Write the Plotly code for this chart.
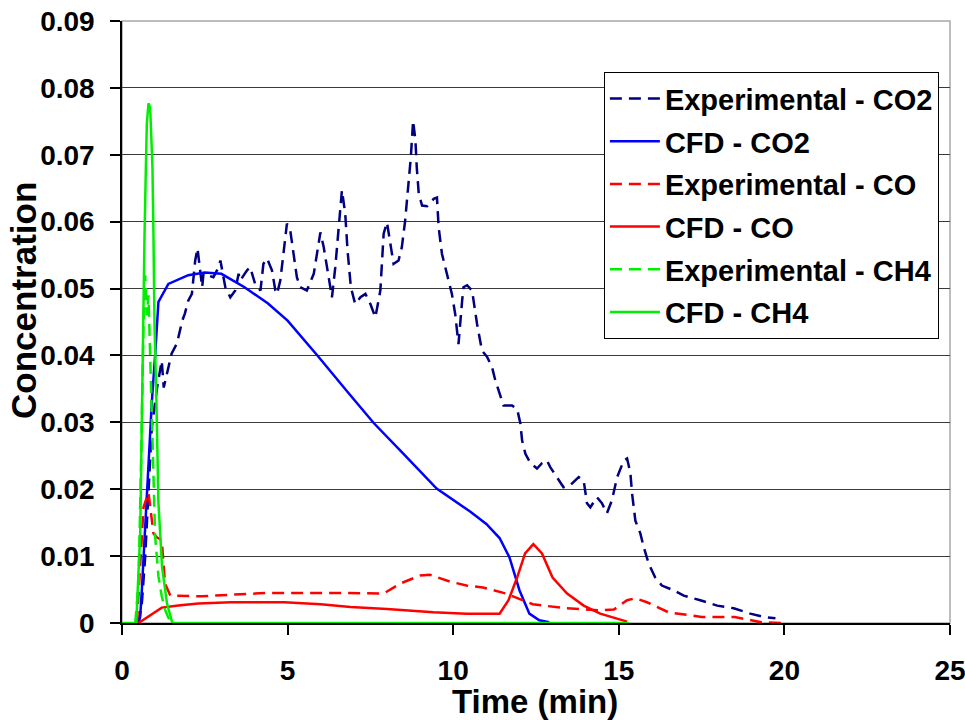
import plotly.graph_objects as go

# Time (min) and concentration values
exp_co2_t = [0.5, 0.6, 0.7, 0.8, 0.9, 1.06, 1.2, 1.26, 1.36, 1.5, 1.66, 1.82, 1.9, 2.0, 2.11, 2.21, 2.28,
             2.34, 2.42, 2.46, 2.76, 2.92, 2.97, 3.12, 3.27, 3.42, 3.52, 3.57, 3.77, 3.87, 4.02, 4.18,
             4.27, 4.38, 4.53, 4.63, 4.68, 4.78, 4.87, 4.98, 5.08, 5.18, 5.28, 5.38, 5.58, 5.79, 5.89,
             5.99, 6.09, 6.24, 6.34, 6.44, 6.54, 6.64, 6.74, 6.81, 6.91, 7.04, 7.2, 7.35, 7.5, 7.65,
             7.8, 7.9, 8.0, 8.1, 8.2, 8.35, 8.45, 8.55, 8.65, 8.72, 8.79, 8.86, 8.9, 8.96, 9.06, 9.21,
             9.41, 9.51, 9.56, 9.66, 9.81, 9.96, 10.06, 10.16, 10.27, 10.31, 10.42, 10.57, 10.72,
             10.87, 11.02, 11.17, 11.27, 11.42, 11.52, 11.78, 11.93, 12.03, 12.08, 12.18, 12.33,
             12.53, 12.68, 12.83, 12.93, 13.13, 13.33, 13.53, 13.79, 13.94, 14.04, 14.14, 14.34,
             14.49, 14.64, 14.79, 14.95, 15.15, 15.25, 15.35, 15.4, 15.5, 15.65, 15.75, 15.9, 16.1,
             16.3, 16.65, 16.96, 17.46, 17.97, 18.47, 18.97, 19.37, 19.73]
exp_co2_c = [0.0, 0.003, 0.0099, 0.0198, 0.0293, 0.0352, 0.0392, 0.0352, 0.0373, 0.0403, 0.0418, 0.0452,
             0.0463, 0.0482, 0.0492, 0.0542, 0.056, 0.0532, 0.0502, 0.0522, 0.0517, 0.0532, 0.0542,
             0.0502, 0.0487, 0.0497, 0.0522, 0.0512, 0.0527, 0.0532, 0.0507, 0.0497, 0.0537, 0.0545,
             0.0527, 0.0497, 0.0492, 0.0512, 0.0547, 0.0597, 0.0587, 0.0552, 0.0517, 0.0502, 0.0497,
             0.0522, 0.0552, 0.0584, 0.0562, 0.0517, 0.0487, 0.0532, 0.0592, 0.0647, 0.0612, 0.0557,
             0.0502, 0.0477, 0.0487, 0.0492, 0.0477, 0.0457, 0.0497, 0.0582, 0.0599, 0.0567, 0.0537,
             0.0542, 0.0562, 0.0602, 0.0651, 0.0696, 0.0751, 0.0721, 0.0681, 0.0642, 0.0624, 0.0623,
             0.0634, 0.0636, 0.0592, 0.0552, 0.0522, 0.0492, 0.0462, 0.0417, 0.0482, 0.0502, 0.0505,
             0.0497, 0.0447, 0.0407, 0.0398, 0.0383, 0.0363, 0.0338, 0.0325, 0.0325, 0.032, 0.0298,
             0.0273, 0.0253, 0.0239, 0.0231, 0.0239, 0.0243, 0.0233, 0.0218, 0.0203, 0.0206, 0.0218,
             0.0213, 0.0179, 0.0173, 0.0188, 0.0179, 0.0164, 0.0183, 0.0218, 0.0243, 0.0246, 0.0224,
             0.0194, 0.0153, 0.0134, 0.0114, 0.0089, 0.0068, 0.0056, 0.0049, 0.0041, 0.0034, 0.0026,
             0.0022, 0.0014, 0.0009, 0.0007]

cfd_co2_t = [0.5, 0.55, 0.6, 0.7, 0.8, 0.9, 1.0, 1.1, 1.4, 2.0, 2.5, 3.0, 3.7, 4.4, 5.0, 5.9, 6.8, 7.6,
             8.5, 9.5, 10.5, 11.0, 11.4, 11.7, 12.0, 12.3, 12.6, 12.9]
cfd_co2_c = [0.0, 0.001, 0.005, 0.015, 0.025, 0.033, 0.040, 0.048, 0.0507, 0.0520, 0.0524, 0.0522,
             0.0502, 0.0478, 0.0452, 0.040, 0.0346, 0.0299, 0.0253, 0.0201, 0.0167, 0.0148, 0.0127,
             0.0098, 0.0049, 0.0014, 0.0004, 0.0001]

exp_co_t = [0.45, 0.55, 0.65, 0.8, 0.95, 1.05, 1.2, 1.3, 1.46, 2.4, 4.4, 6.4, 7.9, 8.4, 9.0, 9.3, 9.9,
            10.4, 10.9, 11.6, 12.4, 13.4, 14.4, 14.85, 15.25, 15.5, 15.85, 16.5, 17.5, 18.5, 19.3, 20.0]
exp_co_c = [0.0, 0.009, 0.0173, 0.0195, 0.0134, 0.0128, 0.0124, 0.0059, 0.0041, 0.0040, 0.0045,
            0.0045, 0.0044, 0.0059, 0.0071, 0.0072, 0.0062, 0.0056, 0.0053, 0.0044, 0.0028, 0.0022,
            0.0019, 0.0020, 0.0034, 0.0037, 0.0031, 0.0016, 0.0009, 0.0009, 0.0001, 0.0]

cfd_co_t = [0.5, 0.85, 1.2, 1.7, 2.3, 3.3, 4.9, 6.0, 6.9, 8.0, 9.4, 10.4, 11.4, 11.67, 11.93, 12.17,
            12.42, 12.68, 13.0, 13.44, 13.94, 14.44, 14.95, 15.25]
cfd_co_c = [0.0, 0.0011, 0.0023, 0.0026, 0.0029, 0.0031, 0.0031, 0.0028, 0.0024, 0.0021, 0.0016,
            0.0014, 0.0014, 0.0034, 0.0068, 0.0104, 0.0118, 0.0104, 0.0068, 0.0044, 0.0026, 0.0014,
            0.0007, 0.0002]

exp_ch4_t = [0.4, 0.5, 0.58, 0.65, 0.7, 0.75, 0.8, 0.85, 0.92, 1.0, 1.1, 1.2, 1.3, 1.4, 1.5]
exp_ch4_c = [0.0, 0.006, 0.025, 0.045, 0.052, 0.046, 0.049, 0.040, 0.025, 0.013, 0.007, 0.004,
             0.002, 0.0008, 0.0]

cfd_ch4_t = [0.0, 0.43, 0.55, 0.63, 0.68, 0.72, 0.75, 0.8, 0.85, 0.88, 0.92, 0.95, 0.98, 1.04, 1.1,
             1.21, 1.36, 1.52, 15.3]
cfd_ch4_c = [0.0, 0.0, 0.0134, 0.045, 0.058, 0.068, 0.0747, 0.0777, 0.0771, 0.0732, 0.068, 0.058,
             0.045, 0.033, 0.018, 0.0083, 0.0029, 0.0, 0.0]

DASH = "12px,7px"
SERIES = [
    ("Experimental - CO2", exp_co2_t, exp_co2_c, "#000080", DASH),
    ("CFD - CO2", cfd_co2_t, cfd_co2_c, "#0000ff", "solid"),
    ("Experimental - CO", exp_co_t, exp_co_c, "#ff0000", DASH),
    ("CFD - CO", cfd_co_t, cfd_co_c, "#ff0000", "solid"),
    ("Experimental - CH4", exp_ch4_t, exp_ch4_c, "#00ee00", DASH),
    ("CFD - CH4", cfd_ch4_t, cfd_ch4_c, "#00ee00", "solid"),
]

FONT = "Liberation Sans, Arial, sans-serif"

fig = go.Figure()
for name, t, c, color, dash in SERIES:
    fig.add_trace(go.Scatter(
        x=t, y=c, mode="lines", name=name, legendgroup=name,
        line={"color": color, "width": 2.5, "dash": dash},
    ))

# grey plot-area frame on top/right like the original chart
fig.add_shape(type="rect", xref="paper", yref="paper", x0=0, x1=1, y0=0, y1=1,
              line={"color": "#a8a8a8", "width": 1.5}, layer="below")

# axis titles as annotations so they can sit exactly where the original puts them
fig.add_annotation(text="Time (min)", xref="paper", yref="paper", x=0.499, y=0, yshift=-78,
                   xanchor="center", yanchor="middle", showarrow=False,
                   font={"family": FONT, "size": 33, "weight": "bold"})
fig.add_annotation(text="Concentration", xref="paper", yref="paper", x=0, y=0.535, xshift=-98,
                   xanchor="center", yanchor="middle", textangle=-90, showarrow=False,
                   font={"family": FONT, "size": 35, "weight": "bold"})

fig.update_layout(
    width=965,
    height=720,
    margin={"l": 122, "r": 15, "t": 21, "b": 97},
    plot_bgcolor="white",
    paper_bgcolor="white",
    font={"family": FONT, "size": 28, "color": "black", "weight": "bold"},
    showlegend=True,
    legend={
        "x": 0.582, "y": 0.915, "xanchor": "left", "yanchor": "top",
        "bgcolor": "white", "bordercolor": "black", "borderwidth": 1,
        "font": {"family": FONT, "size": 29, "weight": "bold"},
        "traceorder": "grouped", "tracegroupgap": 2, "itemwidth": 50,
    },
)
fig.update_xaxes(
    range=[0, 25], dtick=5, showgrid=False, zeroline=False, automargin=False,
    showline=True, linecolor="black", linewidth=1.5,
    ticks="outside", ticklen=10, tickcolor="black", tickwidth=1.5,
    ticklabelstandoff=12, ticklabeloverflow="allow",
)
fig.update_yaxes(
    range=[0, 0.09], dtick=0.01, showgrid=True, gridcolor="#3a3a3a", gridwidth=1.4, zeroline=False,
    automargin=False,
    showline=True, linecolor="black", linewidth=1.5,
    ticks="outside", ticklen=10, tickcolor="black", tickwidth=1.5,
    ticklabelstandoff=10, ticklabeloverflow="allow",
)

# drop the browser's default 8px body margin so the figure fills the window exactly
fig.write_html(
    "out.html",
    config={"displayModeBar": False},
    post_script="document.body.style.margin = '0';",
)
